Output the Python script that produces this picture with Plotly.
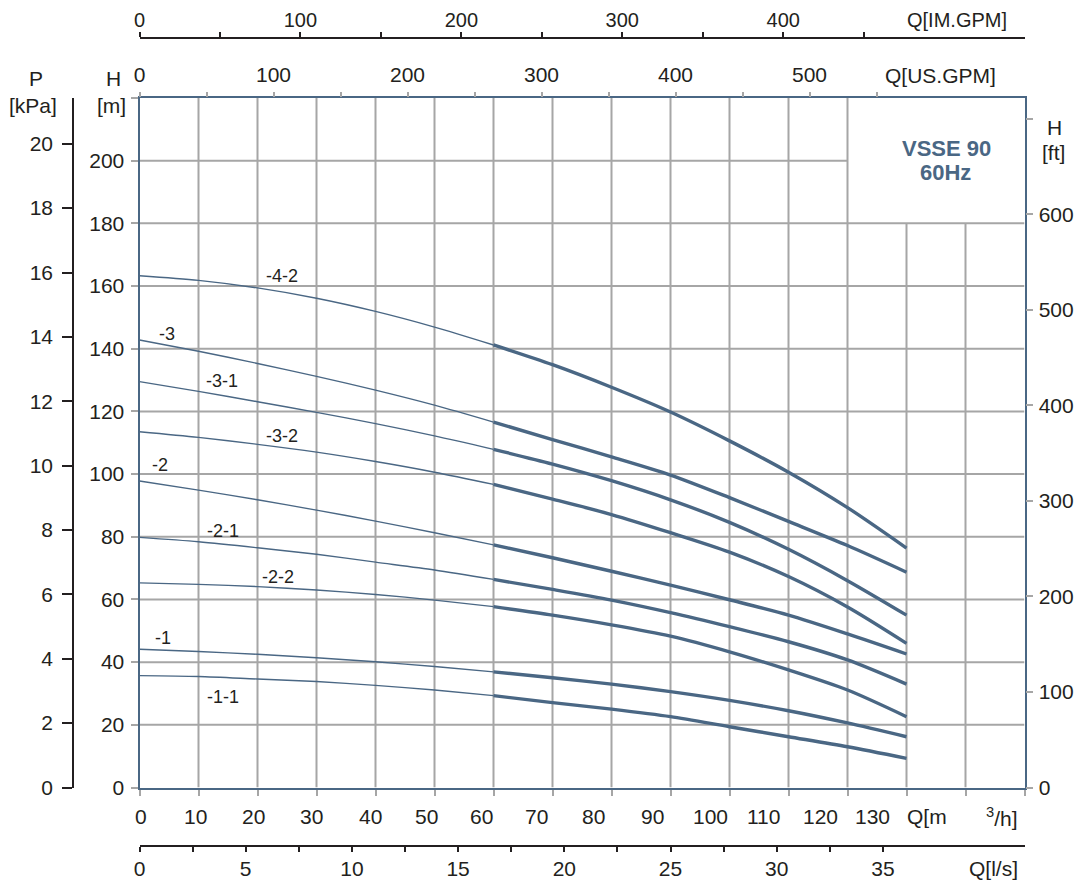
import plotly.graph_objects as go

# ---------------- data ----------------
q_m3h = [0, 10, 20, 30, 40, 50, 60, 70, 80, 90, 100, 110, 120, 130]

curve_names = ["-4-2", "-3", "-3-1", "-3-2", "-2", "-2-1", "-2-2", "-1", "-1-1"]
h_4_2 = [163.3, 161.8, 159.4, 156.1, 151.9, 146.9, 141.2, 134.9, 127.7, 119.8, 110.6, 100.6, 89.3, 76.4]
h_3   = [142.8, 139.2, 135.3, 131.2, 126.8, 122.0, 116.6, 111.0, 105.5, 99.7, 92.5, 84.9, 77.2, 68.7]
h_3_1 = [129.5, 126.4, 123.1, 119.7, 116.1, 112.2, 107.9, 103.2, 97.9, 91.8, 84.6, 76.0, 66.0, 55.0]
h_3_2 = [113.5, 111.7, 109.5, 107.0, 104.0, 100.6, 96.7, 92.0, 87.1, 81.3, 75.1, 67.3, 57.6, 46.0]
h_2   = [97.8, 94.9, 91.8, 88.5, 85.0, 81.3, 77.4, 73.3, 69.0, 64.6, 59.9, 55.0, 49.0, 42.6]
h_2_1 = [79.8, 78.4, 76.5, 74.4, 71.9, 69.4, 66.4, 63.2, 59.8, 55.8, 51.3, 46.5, 40.7, 33.0]
h_2_2 = [65.3, 64.8, 64.1, 63.0, 61.6, 59.8, 57.7, 55.0, 51.9, 48.3, 43.3, 37.5, 31.1, 22.6]
h_1   = [44.1, 43.4, 42.5, 41.4, 40.1, 38.6, 36.9, 35.0, 33.0, 30.6, 27.8, 24.5, 20.6, 16.2]
h_1_1 = [35.7, 35.4, 34.6, 33.8, 32.6, 31.1, 29.3, 27.1, 25.0, 22.6, 19.4, 16.2, 13.0, 9.3]
curves = [h_4_2, h_3, h_3_1, h_3_2, h_2, h_2_1, h_2_2, h_1, h_1_1]

# curve label anchor (Q, H)
label_q = [24.1, 4.6, 13.9, 24.1, 3.5, 14.2, 23.4, 4.0, 14.2]
label_h = [163.3, 144.7, 129.6, 112.0, 102.9, 81.8, 67.3, 47.6, 28.9]

# axis tick labels
m3h_labels = ["0", "10", "20", "30", "40", "50", "60", "70", "80", "90", "100", "110", "120", "130"]
h_m_ticks = [0, 20, 40, 60, 80, 100, 120, 140, 160, 180, 200, 220]
h_ft_ticks = [0, 100, 200, 300, 400, 500, 600, 700]
p_ticks = [0, 2, 4, 6, 8, 10, 12, 14, 16, 18, 20]
usgpm_ticks = [0, 50, 100, 150, 200, 250, 300, 350, 400, 450, 500, 550]
imgpm_ticks = [0, 50, 100, 150, 200, 250, 300, 350, 400, 450]
ls_ticks = [0, 2.5, 5, 7.5, 10, 12.5, 15, 17.5, 20, 22.5, 25, 27.5, 30, 32.5, 35]

# unit conversions
Q_MAX = 150
H_MAX = 220
USGPM_PER_M3H = 4.40287
IMGPM_PER_M3H = 3.66615
M3H_PER_LS = 3.6
M_PER_FT = 0.3048
M_PER_P = 10.27
THICK_FROM = 6  # index where curves become bold

# ---------------- style / layout ----------------
OFF = 8  # page body margin
W, H = 1082 - OFF, 884 - OFF
SLATE = "#4a6784"
GRID = "#a6a6a6"
TXT = "#231f20"
FONT = "Liberation Sans, Arial, sans-serif"
FS = 21


def px(x):
    return (x - OFF) / W


def py(y):
    return 1 - (y - OFF) / H


PX_L, PX_R, PX_T, PX_B = 139.5, 1024.5, 98, 787.5
X0, X1 = px(PX_L), px(PX_R)
Y0, Y1 = py(PX_B), py(PX_T)

fig = go.Figure()

for name, hv in zip(curve_names, curves):
    fig.add_trace(go.Scatter(x=q_m3h[:THICK_FROM + 1], y=hv[:THICK_FROM + 1], mode="lines",
                             line=dict(color=SLATE, width=1.4, shape="spline", smoothing=0.8),
                             hoverinfo="skip", showlegend=False))
    fig.add_trace(go.Scatter(x=q_m3h[THICK_FROM:], y=hv[THICK_FROM:], mode="lines",
                             line=dict(color=SLATE, width=3.4, shape="spline", smoothing=0.8),
                             hoverinfo="skip", showlegend=False))

# dummy traces to activate secondary axes
for xa, ya in [("x2", "y"), ("x3", "y"), ("x4", "y"), ("x", "y2"), ("x", "y3")]:
    fig.add_trace(go.Scatter(x=[None], y=[None], xaxis=xa, yaxis=ya, mode="lines",
                             hoverinfo="skip", showlegend=False))

# grid as shapes
shapes = []
for qv in range(10, Q_MAX, 10):
    top = H_MAX if qv <= 120 else 180
    shapes.append(dict(type="line", xref="x", yref="y", x0=qv, x1=qv, y0=0, y1=top,
                       line=dict(color=GRID, width=2), layer="below"))
for hv in range(20, H_MAX, 20):
    right = Q_MAX if hv <= 180 else 120
    shapes.append(dict(type="line", xref="x", yref="y", x0=0, x1=right, y0=hv, y1=hv,
                       line=dict(color=GRID, width=2), layer="below"))

annotations = []
for name, lq, lh in zip(curve_names, label_q, label_h):
    annotations.append(dict(x=lq, y=lh, xref="x", yref="y", text=name, showarrow=False,
                            xanchor="center", yanchor="middle",
                            font=dict(size=18, color=TXT, family=FONT)))


def txt(t, x, y, size=FS, color=TXT, bold=False):
    annotations.append(dict(x=px(x), y=py(y), xref="paper", yref="paper",
                            xanchor="center", yanchor="middle",
                            text=f"<b>{t}</b>" if bold else t, showarrow=False,
                            font=dict(size=size, color=color, family=FONT)))


# bottom m3/h labels (as placed in reference)
m3h_label_px = [141, 195, 253, 311, 370, 426, 481, 536, 593, 652, 710, 763, 820, 872]
for t, xp in zip(m3h_labels, m3h_label_px):
    txt(t, xp, 816.5)

txt("Q[m", 927, 816.5)
txt("<sup>3</sup>/h]", 1002, 816.5)
txt("Q[l/s]", 993, 868)
txt("Q[IM.GPM]", 957, 20, size=20)
txt("Q[US.GPM]", 940, 75)
txt("P", 36, 79)
txt("[kPa]", 33, 105)
txt("H", 113, 79)
txt("[m]", 111, 105)
txt("H", 1054, 127)
txt("[ft]", 1053, 152)
txt("VSSE 90", 946, 149, size=22, color=SLATE, bold=True)
txt("60Hz", 945, 173, size=22, color=SLATE, bold=True)

tickfont = dict(size=FS, color=TXT, family=FONT)

fig.update_layout(
    width=W, height=H, margin=dict(l=0, r=0, t=0, b=0, pad=0, autoexpand=False),
    paper_bgcolor="white", plot_bgcolor="white", showlegend=False,
    font=dict(family=FONT, size=FS, color=TXT),
    shapes=shapes, annotations=annotations,
    xaxis=dict(domain=[X0, X1], range=[0, Q_MAX], tickvals=list(range(0, Q_MAX + 1, 10)),
               showticklabels=False, ticks="outside", ticklen=6, tickcolor=GRID, tickwidth=1.5,
               showgrid=False, zeroline=False, showline=True, mirror=True, automargin=False,
               linecolor=SLATE, linewidth=2, fixedrange=True),
    yaxis=dict(domain=[Y0, Y1], range=[0, H_MAX], tickvals=h_m_ticks,
               ticktext=[str(v) if v < 220 else " " for v in h_m_ticks],
               ticks="outside", ticklen=7, tickcolor=GRID, tickwidth=1.5, tickfont=tickfont,
               ticklabelstandoff=2,
               showgrid=False, zeroline=False, showline=True, mirror=True, automargin=False,
               linecolor=SLATE, linewidth=2, fixedrange=True),
    xaxis2=dict(overlaying="x", side="top", anchor="y", range=[0, Q_MAX * USGPM_PER_M3H],
                tickvals=usgpm_ticks,
                ticktext=[str(v) if v % 100 == 0 and v <= 500 else " " for v in usgpm_ticks],
                ticks="outside", ticklen=5, tickcolor=GRID, tickwidth=1.5, tickfont=tickfont,
                ticklabelstandoff=2,
                showgrid=False, zeroline=False, showline=False, automargin=False, fixedrange=True),
    xaxis3=dict(overlaying="x", side="top", anchor="free", position=py(37.5),
                range=[0, Q_MAX * IMGPM_PER_M3H], tickvals=imgpm_ticks,
                ticktext=[str(v) if v % 100 == 0 else " " for v in imgpm_ticks],
                ticks="outside", ticklen=5, tickcolor=TXT, tickwidth=1.5,
                tickfont=dict(size=20, color=TXT, family=FONT),
                ticklabelstandoff=-3,
                showgrid=False, zeroline=False, showline=True, linecolor=TXT, linewidth=1.5,
                automargin=False, fixedrange=True),
    xaxis4=dict(overlaying="x", side="bottom", anchor="free", position=py(846),
                range=[0, Q_MAX / M3H_PER_LS], tickvals=ls_ticks,
                ticktext=[str(int(v)) if v % 5 == 0 else " " for v in ls_ticks],
                ticks="outside", ticklen=5, tickcolor=TXT, tickwidth=1.5, tickfont=tickfont,
                ticklabelstandoff=-1,
                showgrid=False, zeroline=False, showline=True, linecolor=TXT, linewidth=1.5,
                automargin=False, fixedrange=True),
    yaxis2=dict(overlaying="y", side="right", anchor="x", range=[0, H_MAX / M_PER_FT],
                tickvals=h_ft_ticks,
                ticktext=[str(v) if v < 700 else " " for v in h_ft_ticks],
                ticks="outside", ticklen=7, tickcolor=GRID, tickwidth=1.5, tickfont=tickfont,
                ticklabelstandoff=2,
                showgrid=False, zeroline=False, showline=False, automargin=False, fixedrange=True),
    yaxis3=dict(overlaying="y", side="left", anchor="free", position=px(73),
                range=[0, H_MAX / M_PER_P], tickvals=p_ticks,
                ticks="outside", ticklen=10, tickcolor=TXT, tickwidth=1.5, tickfont=tickfont,
                ticklabelstandoff=5,
                showgrid=False, zeroline=False, showline=True, linecolor=TXT, linewidth=1.5,
                automargin=False, fixedrange=True),
)

fig.write_html("out.html")
